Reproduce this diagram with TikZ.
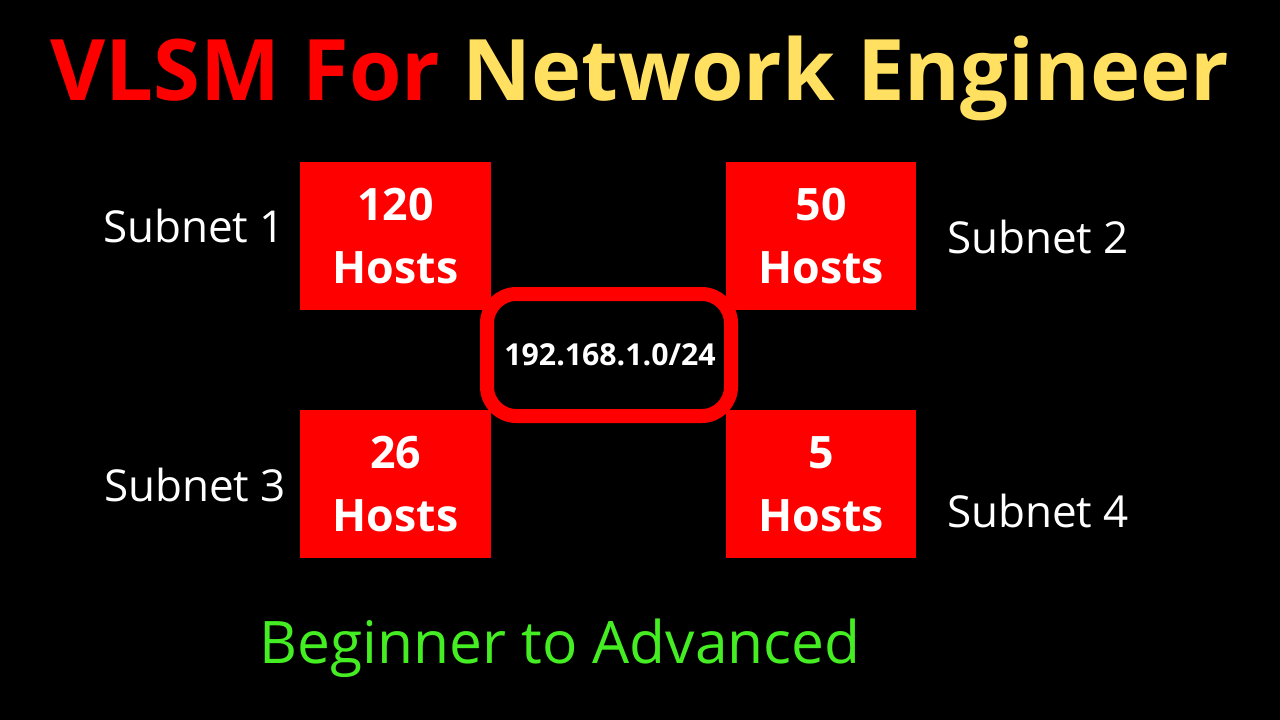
\documentclass[tikz,border=0pt]{standalone}
\usepackage{fontspec}
\setmainfont{Open Sans}
\definecolor{boxred}{RGB}{255,0,0}
\definecolor{titleyellow}{RGB}{255,224,96}
\definecolor{subgreen}{RGB}{68,238,34}
\tikzset{every picture/.style={line width=0.75pt}}
\tikzset{
  hostbox/.style={fill=boxred,draw=none,minimum width=143pt,minimum height=111pt,inner sep=0pt,
    text=white,align=center,font=\fontsize{33.5}{47}\selectfont\bfseries},
  sublabel/.style={text=white,font=\fontsize{33}{40}\selectfont}
}
\begin{document}
\begin{tikzpicture}[x=0.75pt,y=0.75pt,yscale=-1,xscale=1]
	\useasboundingbox[fill=black] (0,0) rectangle (1280,720);

	% Title
	\node (title) at (640,78) {\fontsize{63.7}{76}\selectfont\bfseries\textcolor{boxred}{VLSM For} \textcolor{titleyellow}{Network Engineer}};

	% Host boxes
	\node[hostbox] (box1) at (395.5,236) {120\\Hosts};
	\node[hostbox] (box2) at (821,236) {50\\Hosts};
	\node[hostbox] (box3) at (395.5,484) {26\\Hosts};
	\node[hostbox] (box4) at (821,484) {5\\Hosts};

	% Network
	\draw[draw=boxred,line width=10.5pt,fill=black,rounded corners=22pt] (487,294) rectangle (731,416);
	\node[text=white,font=\fontsize{22.7}{27}\selectfont\bfseries] (net) at (610,355) {192.168.1.0/24};

	% Labels
	\node[sublabel] (sub1) at (194,226) {Subnet 1};
	\node[sublabel] (sub2) at (1038,237) {Subnet 2};
	\node[sublabel] (sub3) at (195,485) {Subnet 3};
	\node[sublabel] (sub4) at (1038,511) {Subnet 4};

	% Subtitle
	\node[text=subgreen,font=\fontsize{44}{52}\selectfont] (sub) at (560,648) {Beginner to Advanced};
\end{tikzpicture}
\end{document}
